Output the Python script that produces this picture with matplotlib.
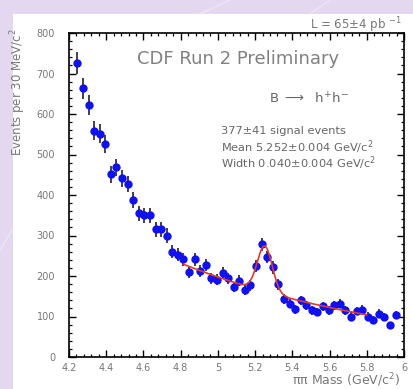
import numpy as np
import matplotlib
matplotlib.use("Agg")
import matplotlib.pyplot as plt
from matplotlib.patches import Rectangle
from matplotlib.lines import Line2D
from matplotlib.ticker import MultipleLocator

plt.rcParams['font.family'] = ['DejaVu Sans']
plt.rcParams['mathtext.default'] = 'regular'

# ---- data ----
bin_start = 4.245
bin_width = 0.03
counts = [726, 664, 623, 559, 551, 526, 451, 468, 441, 427,
          388, 355, 350, 350, 315, 315, 300, 260, 253, 241,
          210, 241, 213, 227, 194, 191, 208, 194, 173, 188,
          165, 177, 224, 278, 247, 221, 180, 143, 132, 118,
          140, 128, 115, 111, 125, 115, 128, 132, 115, 100,
          114, 117, 100, 92, 107, 99, 78, 103]
mass = [round(bin_start + bin_width * i, 3) for i in range(len(counts))]

# fit parameters (stated on chart / read)
fit_mean = 5.252
fit_width = 0.040
fit_signal = 377
bg_norm = 229.0      # background at fit start
bg_slope = 0.80      # exponential slope (1/GeV)
fit_range = (4.815, 5.80)

x_ticks = [4.2, 4.4, 4.6, 4.8, 5.0, 5.2, 5.4, 5.6, 5.8, 6.0]
x_ticklabels = ["4.2", "4.4", "4.6", "4.8", "5", "5.2", "5.4", "5.6", "5.8", "6"]
y_ticks = [0, 100, 200, 300, 400, 500, 600, 700, 800]

W, H = 413, 389
fig = plt.figure(figsize=(W / 100, H / 100), dpi=100)
fig.patch.set_facecolor('#e3d8ef')

# faint decorative diagonal lines in background
for (x0, y0, x1, y1) in [(230 / W, 1.0, 200 / W, 1 - 14 / H), (0.0, 1 - 250 / H, 13 / W, 1 - 228 / H),
                         (330 / W, 1.0, 310 / W, 1 - 14 / H)]:
    fig.add_artist(Line2D([x0, x1], [y0, y1], transform=fig.transFigure, color='#eee6f6', lw=1.0))

# white panel
fig.add_artist(Rectangle((13 / W, 0), 1 - 13 / W, 1 - 14 / H, transform=fig.transFigure,
                         facecolor='white', edgecolor='none', zorder=0))

ax = fig.add_axes([69 / W, 1 - 357 / H, (404 - 69) / W, (357 - 33) / H])
ax.set_facecolor('white')
ax.set_zorder(2)

counts_arr = np.array(counts, dtype=float)
errs = np.sqrt(counts_arr)
ax.errorbar(mass, counts_arr, yerr=errs, fmt='o', color='#1010f0', markersize=5,
            ecolor='#333333', elinewidth=1.3, capsize=0, zorder=3)

# fit curve
xf = np.linspace(fit_range[0], fit_range[1], 300)
amp = fit_signal * bin_width / (np.sqrt(2 * np.pi) * fit_width)
yf = bg_norm * np.exp(-bg_slope * (xf - fit_range[0])) + amp * np.exp(-0.5 * ((xf - fit_mean) / fit_width) ** 2)
ax.plot(xf, yf, color='#e23a2e', lw=1.2, zorder=4)

ax.set_xlim(4.2, 6.0)
ax.set_ylim(0, 800)
ax.set_xticks(x_ticks)
ax.set_xticklabels(x_ticklabels)
ax.set_yticks(y_ticks)
ax.xaxis.set_minor_locator(MultipleLocator(0.04))
ax.yaxis.set_minor_locator(MultipleLocator(20))
ax.tick_params(which='both', direction='in', top=True, right=True, colors='black',
               labelcolor='#777777', labelsize=7)
ax.tick_params(axis='x', which='major', length=5, width=1.0, pad=4)
ax.tick_params(axis='y', which='major', length=5, width=1.0, pad=10)
ax.tick_params(which='minor', length=2.5, width=0.9)
for s in ax.spines.values():
    s.set_linewidth(1.2)
    s.set_color('black')

tc = '#666666'
ax.text(0.203, 0.92, "CDF Run 2 Preliminary", transform=ax.transAxes, fontsize=13,
        color='#808080', ha='left', va='center')
ax.text(0.597, 0.796, r"B $\longrightarrow$  h$^{+}$h$^{-}$", transform=ax.transAxes, fontsize=9.5,
        color=tc, ha='left', va='center')
ax.text(0.454, 0.697, "377\u00b141 signal events", transform=ax.transAxes, fontsize=8.2,
        color=tc, ha='left', va='center')
ax.text(0.454, 0.648, "Mean 5.252\u00b10.004 GeV/c$^{2}$", transform=ax.transAxes, fontsize=8.2,
        color=tc, ha='left', va='center')
ax.text(0.454, 0.599, "Width 0.040\u00b10.004 GeV/c$^{2}$", transform=ax.transAxes, fontsize=8.2,
        color=tc, ha='left', va='center')

fig.text(402 / W, 1 - 25 / H, "L = 65\u00b14 pb $^{-1}$", fontsize=8.5, color='#777777',
         ha='right', va='center')
fig.text(18 / W, 1 - 28 / H, "Events per 30 MeV/c$^{2}$", rotation=90, fontsize=8.5,
         color='#777777', ha='center', va='top')
fig.text(400 / W, 1 - 380 / H, "\u03c0\u03c0 Mass (GeV/c$^{2}$)", fontsize=9, color='#777777',
         ha='right', va='center')

fig.savefig("out.png", dpi=100, facecolor=fig.get_facecolor())
